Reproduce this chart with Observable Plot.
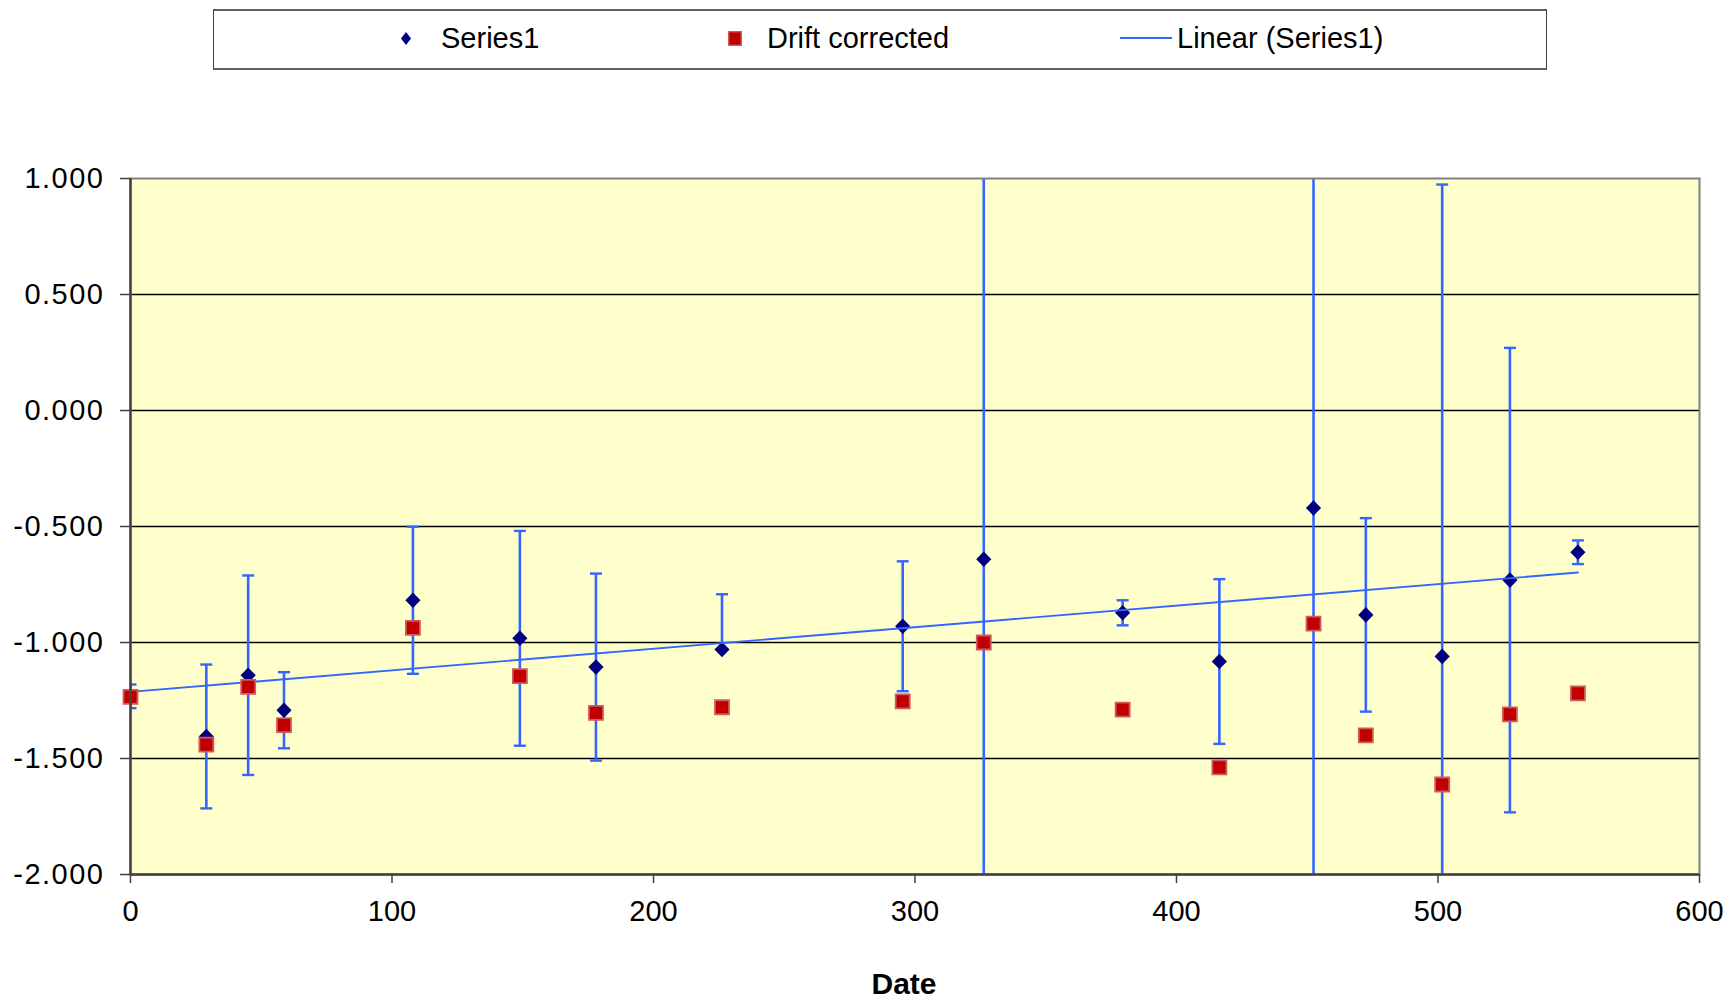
<!DOCTYPE html>
<html>
<head>
<meta charset="utf-8">
<script src="https://cdn.jsdelivr.net/npm/d3@7"></script>
<script src="https://cdn.jsdelivr.net/npm/@observablehq/plot@0.6"></script>
<style>
  body { margin: 0; background: #fff; font-family: "Liberation Sans", Arial, sans-serif; }
  #wrap { position: relative; width: 1730px; height: 1002px; overflow: hidden; }
  #legendArea { position: relative; width: 1730px; height: 100px; }
  #legendBox { position: absolute; left: 213px; top: 9px; width: 1334px; height: 61px; box-sizing: border-box;
    border-left: 1px solid #404040; border-right: 1px solid #404040; border-top: 2px solid #606060; border-bottom: 2px solid #606060; }
  .lg { position: absolute; font-size: 29px; color: #000; line-height: 1; white-space: nowrap; }
</style>
</head>
<body>
<div id="wrap">
  <div id="legendArea">
    <div id="legendBox"></div>
  </div>
  <div id="chart"></div>
</div>
<script>
// ---- data ----
const dates    = [0, 29, 45, 58.7, 108, 148.9, 178, 226.2, 295.3, 326.3, 379.4, 416.4, 452.4, 472.4, 501.6, 527.5, 553.5];
const series1  = [-1.232, -1.405, -1.141, -1.292, -0.818, -0.982, -1.106, -1.030, -0.930, -0.641, -0.872, -1.082, -0.420, -0.881, -1.060, -0.731, -0.611];
const drift    = [-1.234, -1.440, -1.191, -1.356, -0.937, -1.145, -1.303, -1.279, -1.254, -1.000, -1.289, -1.538, -0.919, -1.400, -1.612, -1.310, -1.219];
const errPlus  = [0.051, 0.310, 0.430, 0.164, 0.317, 0.463, 0.403, 0.238, 0.280, 2.000, 0.054, 0.355, 2.000, 0.417, 2.034, 1.001, 0.051];
const errMinus = [0.051, 0.310, 0.430, 0.164, 0.317, 0.463, 0.403, 0.000, 0.280, 2.000, 0.054, 0.355, 2.000, 0.417, 2.034, 1.001, 0.051];
const xTicks = [0, 100, 200, 300, 400, 500, 600];
const yTicks = [-2, -1.5, -1, -0.5, 0, 0.5, 1];
const legendLabels = ["Series1", "Drift corrected", "Linear (Series1)"];
const xLabel = "Date";

const BLUE = "#3366ff", NAVY = "#000080", RED = "#c00000";

const s1 = dates.map((d, i) => ({d, v: series1[i], lo: series1[i] - errMinus[i], hi: series1[i] + errPlus[i]}));
const dr = dates.map((d, i) => ({d, v: drift[i]}));
const caps = s1.flatMap(p => [{d: p.d, v: p.lo}, {d: p.d, v: p.hi}]);

// marker shapes (pixel sizes of the glyphs)
const hbar = {draw(ctx) { ctx.moveTo(-6, 0); ctx.lineTo(6, 0); }};
const diamond = {draw(ctx) { ctx.moveTo(0, -7.8); ctx.lineTo(7.6, 0); ctx.lineTo(0, 7.8); ctx.lineTo(-7.6, 0); ctx.closePath(); }};
const square = {draw(ctx) { ctx.moveTo(-7, -7); ctx.lineTo(7, -7); ctx.lineTo(7, 7); ctx.lineTo(-7, 7); ctx.closePath(); }};

const FONT = "'Liberation Sans', Arial, sans-serif";

const chart = Plot.plot({
  width: 1730,
  height: 902,
  marginTop: 78,
  marginBottom: 128,
  marginLeft: 130,
  marginRight: 31,
  style: {fontSize: "29px", fontFamily: FONT, color: "#000", background: "#fff", overflow: "visible"},
  x: {domain: [0, 600], ticks: xTicks},
  y: {domain: [-2, 1], ticks: yTicks},
  marks: [
    Plot.frame({fill: "#ffffcc", stroke: null}),
    Plot.ruleY(yTicks.filter(t => t > -2 && t < 1), {stroke: "#000", strokeWidth: 1.3}),
    Plot.ruleX(s1, {x: "d", y1: "lo", y2: "hi", stroke: BLUE, strokeWidth: 2.6, clip: true}),
    Plot.dot(caps, {x: "d", y: "v", symbol: hbar, r: 6, stroke: BLUE, strokeWidth: 2.4, fill: "none", clip: true}),
    Plot.dot(s1, {x: "d", y: "v", symbol: diamond, r: 7, fill: NAVY, stroke: null}),
    Plot.linearRegressionY(s1, {x: "d", y: "v", stroke: BLUE, strokeWidth: 1.9, ci: 0}),
    Plot.dot(dr, {x: "d", y: "v", symbol: square, r: 7, fill: RED, stroke: "#d25a5a", strokeWidth: 1.8}),
    Plot.frame({stroke: "#808080", strokeWidth: 2}),
    Plot.ruleX([0], {stroke: "#404040", strokeWidth: 2.4}),
    Plot.ruleY([-2], {stroke: "#404040", strokeWidth: 2.4}),
    Plot.axisY({ticks: yTicks, tickSize: 10, tickPadding: 16, tickFormat: d => d.toFixed(3), label: null, stroke: "#404040", strokeWidth: 1.5, fill: "#000"}),
    Plot.axisX({ticks: xTicks, tickSize: 9, tickPadding: 17, tickFormat: d => String(d), label: null, stroke: "#404040", strokeWidth: 1.5, fill: "#000"}),
    Plot.text([xLabel], {text: d => d, frameAnchor: "bottom", lineAnchor: "middle", dy: 110, dx: -11, fontWeight: "bold", fontSize: 30, fill: "#000"})
  ]
});
// the reference draws the value labels slightly wider
chart.querySelectorAll('[aria-label="y-axis tick label"] text').forEach(t => t.setAttribute("letter-spacing", "1.5px"));
document.getElementById("chart").appendChild(chart);

// ---- legend (HTML above the SVG) ----
const box = document.getElementById("legendBox");
const cy = 38 - 9 - 2; // centre line inside the box (box top at 9 + border 2)
function addSvg(left, w, h, inner) {
  const el = document.createElement("div");
  el.style.position = "absolute";
  el.style.left = (left - 213 - 1) + "px";
  el.style.top = (cy - h / 2) + "px";
  el.innerHTML = `<svg width="${w}" height="${h}" viewBox="0 0 ${w} ${h}" style="display:block">${inner}</svg>`;
  box.appendChild(el);
}
function addText(left, txt) {
  const el = document.createElement("div");
  el.className = "lg";
  el.textContent = txt;
  el.style.left = (left - 213 - 1) + "px";
  el.style.top = (cy - 14) + "px";
  box.appendChild(el);
}
addSvg(401, 10, 13, `<path d="M5 0 L10 6.5 L5 13 L0 6.5 Z" fill="${NAVY}"/>`);
addText(441, legendLabels[0]);
addSvg(728, 14, 15, `<rect x="0.7" y="0.7" width="12.6" height="13.6" fill="${RED}" stroke="#d25a5a" stroke-width="1.4"/>`);
addText(767, legendLabels[1]);
addSvg(1120, 52, 4, `<line x1="0" y1="2" x2="52" y2="2" stroke="${BLUE}" stroke-width="2"/>`);
addText(1177, legendLabels[2]);
</script>
</body>
</html>
